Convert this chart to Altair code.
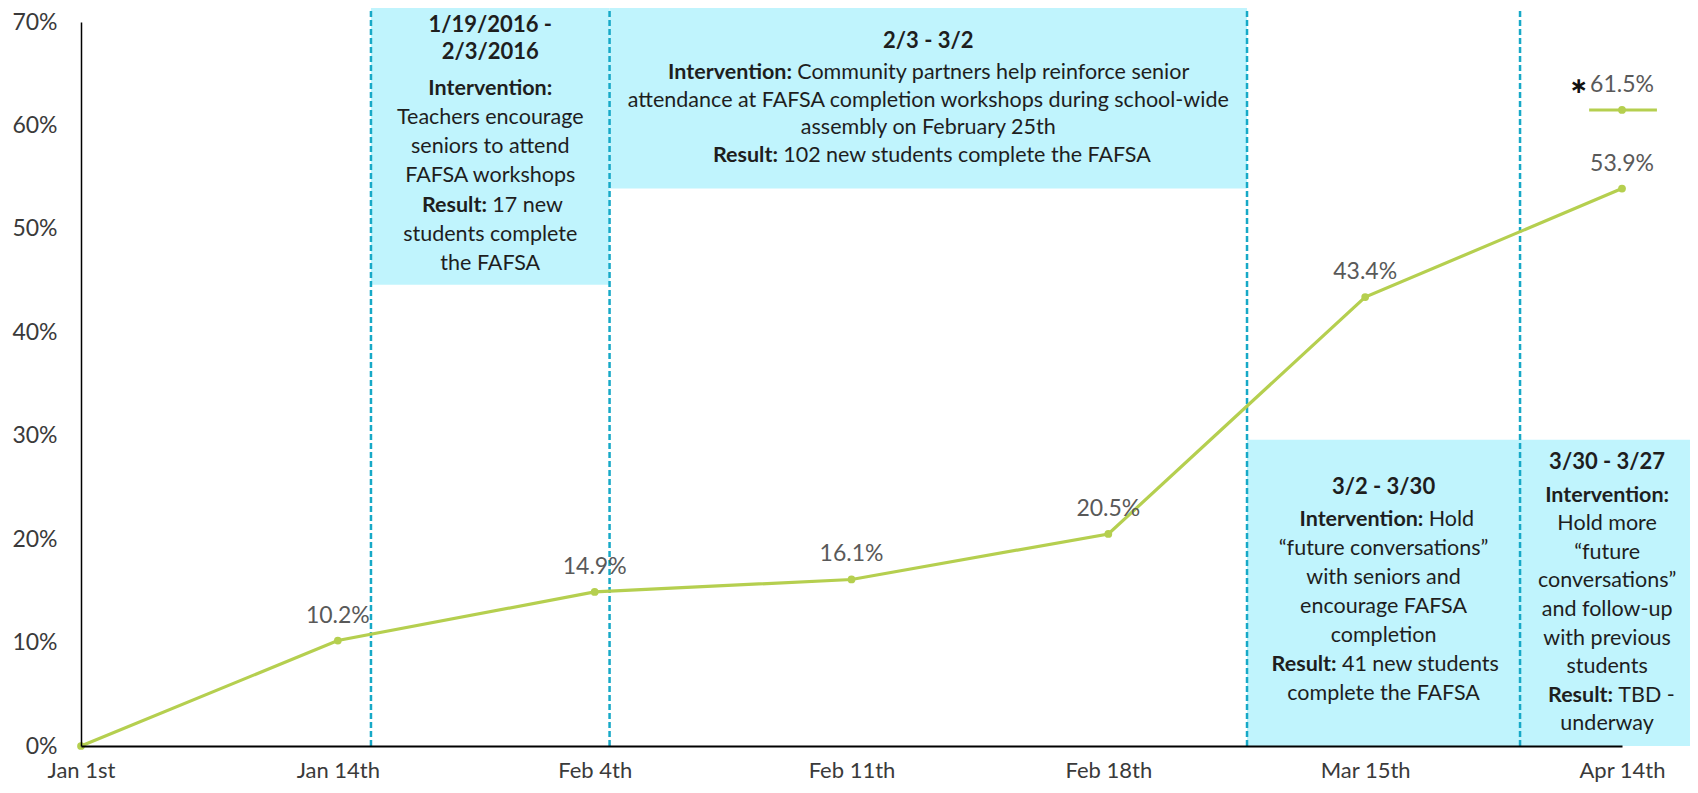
import json
import altair as alt
import pandas as pd

FONT = "Lato"

# ---------------- data ----------------
categories = ["Jan 1st", "Jan 14th", "Feb 4th", "Feb 11th", "Feb 18th", "Mar 15th", "Apr 14th"]
rate = [0.0, 10.2, 14.9, 16.1, 20.5, 43.4, 53.9]
rate_labels = ["", "10.2%", "14.9%", "16.1%", "20.5%", "43.4%", "53.9%"]

target_value = 61.5
target_label = "61.5%"
target_mark = "\u2217"
target_at = 6
target_start = 5.872
target_end = 6.136

box_start = [1.129, 2.058, 4.540, 5.603]
box_end = [2.058, 4.540, 5.603, 6.281]
box_bottom = [44.6, 53.9, 0.0, 0.0]
box_top = [72.3, 72.3, 29.6, 29.6]
box_titles = [["1/19/2016 -", "2/3/2016"], ["2/3 - 3/2"], ["3/2 - 3/30"], ["3/30 - 3/27"]]
box_body = [
    [("Intervention:", ""), ("", "Teachers encourage"), ("", "seniors to attend"),
     ("", "FAFSA workshops"), ("Result:", "17 new"), ("", "students complete"), ("", "the FAFSA")],
    [("Intervention:", "Community partners help reinforce senior"),
     ("", "attendance at FAFSA completion workshops during school-wide"),
     ("", "assembly on February 25th"),
     ("Result:", "102 new students complete the FAFSA")],
    [("Intervention:", "Hold"), ("", "\u201cfuture conversations\u201d"), ("", "with seniors and"),
     ("", "encourage FAFSA"), ("", "completion"), ("Result:", "41 new students"),
     ("", "complete the FAFSA")],
    [("Intervention:", ""), ("", "Hold more"), ("", "\u201cfuture"), ("", "conversations\u201d"),
     ("", "and follow-up"), ("", "with previous"), ("", "students"), ("Result:", "TBD -"),
     ("", "underway")],
]
dashed_at = [1.129, 2.058, 4.540, 5.603]

# ---------------- style ----------------
LINE = "#B5CF4F"
DASH = "#17A9C7"
FILL = "#C0F4FD"
TXT = "#1E1E1E"
LBL = "#595959"
AXL = "#3A3A3A"

PLOT_W = 1541
PLOT_H = 724
X_MAX = len(categories) - 1
Y_MAX = 70
PX_X = PLOT_W / X_MAX   # pixels per x unit
PX_Y = PLOT_H / Y_MAX   # pixels per y unit

BODY_SIZE = 21.5
TITLE_SIZE = 22
TITLE_LH = 27
TITLE_GAP = [37, 32, 33, 34]
BODY_LH = [29.3, 27.5, 29.0, 28.6]
BLOCK_SHIFT = [3, 5, -2, 0]   # px, nudges each text block down

# rough glyph advance widths (em) used only to centre mixed bold/regular lines
_W = {' ': 0.226, 'a': 0.479, 'b': 0.525, 'c': 0.423, 'd': 0.525, 'e': 0.498, 'f': 0.305,
      'g': 0.471, 'h': 0.525, 'i': 0.229, 'j': 0.239, 'k': 0.455, 'l': 0.229, 'm': 0.799,
      'n': 0.525, 'o': 0.527, 'p': 0.525, 'q': 0.525, 'r': 0.349, 's': 0.391, 't': 0.335,
      'u': 0.525, 'v': 0.452, 'w': 0.715, 'x': 0.433, 'y': 0.453, 'z': 0.395,
      'A': 0.579, 'B': 0.544, 'C': 0.533, 'D': 0.615, 'E': 0.488, 'F': 0.459, 'G': 0.631,
      'H': 0.623, 'I': 0.252, 'R': 0.543, 'S': 0.459, 'T': 0.487,
      '.': 0.252, ':': 0.268, '-': 0.306, '%': 0.715, '/': 0.386, '\u201c': 0.418, '\u201d': 0.418}


def text_width(s, size, bold=False):
    w = sum(_W.get(ch, 0.507) for ch in s)
    return w * size * (1.13 if bold else 1.08)


SPACE = 0.226 * BODY_SIZE * 1.08

rows = []
for k in range(len(box_start)):
    cx = (box_start[k] + box_end[k]) / 2
    cy = (box_bottom[k] + box_top[k]) / 2
    pos = []
    for i, t in enumerate(box_titles[k]):
        pos.append(("title", t, "", i * TITLE_LH))
    base = (len(box_titles[k]) - 1) * TITLE_LH + TITLE_GAP[k]
    for j, (b, r) in enumerate(box_body[k]):
        pos.append(("body", b, r, base + j * BODY_LH[k]))
    span = pos[-1][3]
    for kind, b, r, p in pos:
        ty = cy - (p - span / 2 + BLOCK_SHIFT[k]) / PX_Y
        if kind == "title":
            rows.append(dict(x=cx, y=ty, text=b, style="title"))
        elif b and r:
            wb = text_width(b, BODY_SIZE, True)
            wr = text_width(r, BODY_SIZE)
            W = wb + SPACE + wr
            pivot = -W / 2 + wb
            rows.append(dict(x=cx + pivot / PX_X, y=ty, text=b, style="bold_right"))
            rows.append(dict(x=cx + (pivot + SPACE) / PX_X, y=ty, text=r, style="reg_left"))
        elif b:
            rows.append(dict(x=cx, y=ty, text=b, style="bold_center"))
        else:
            rows.append(dict(x=cx, y=ty, text=r, style="reg_center"))

text_df = pd.DataFrame(rows)
line_df = pd.DataFrame({"idx": list(range(len(categories))), "cat": categories,
                        "rate": rate, "label": rate_labels})
box_df = pd.DataFrame({"x1": box_start, "x2": box_end, "y1": box_bottom, "y2": box_top})
dash_df = pd.DataFrame({"x": dashed_at})
target_df = pd.DataFrame({"x": [target_at], "xs": [target_start], "xe": [target_end],
                          "y": [target_value], "label": [target_label], "mark": [target_mark]})

x_scale = alt.Scale(domain=[0, X_MAX], nice=False, zero=False)
y_scale = alt.Scale(domain=[0, Y_MAX], nice=False)

label_expr = json.dumps(categories) + "[datum.value]"
x_axis = alt.Axis(values=list(range(len(categories))), labelExpr=label_expr, title=None,
                  ticks=False, grid=False, labelFont=FONT, labelFontSize=22, labelColor=AXL,
                  labelPadding=31, labelBaseline="alphabetic", domainColor="#000000",
                  domainWidth=2, zindex=1, labelFlush=False)
y_axis = alt.Axis(values=list(range(0, 71, 10)), labelExpr="datum.value + '%'", title=None,
                  ticks=False, grid=False, labelFont=FONT, labelFontSize=23, labelColor=AXL,
                  labelPadding=24, domainColor="#000000", domainWidth=1.5, zindex=1)

boxes = alt.Chart(box_df).mark_rect(color=FILL).encode(
    x=alt.X("x1:Q", scale=x_scale, axis=x_axis),
    x2="x2:Q",
    y=alt.Y("y1:Q", scale=y_scale, axis=y_axis),
    y2="y2:Q",
)

dashes = alt.Chart(dash_df).mark_rule(color=DASH, strokeWidth=2.5, strokeDash=[6, 3]).encode(
    x="x:Q", y=alt.datum(0), y2=alt.datum(72.8)
)

line = alt.Chart(line_df).mark_line(color=LINE, strokeWidth=3.2).encode(x="idx:Q", y="rate:Q")
pts = alt.Chart(line_df).mark_circle(color=LINE, size=60, opacity=1).encode(x="idx:Q", y="rate:Q")
lbls = alt.Chart(line_df).mark_text(font=FONT, fontSize=23, color=LBL, dy=-25,
                                    baseline="middle").encode(x="idx:Q", y="rate:Q", text="label:N")

t_rule = alt.Chart(target_df).mark_rule(color=LINE, strokeWidth=3).encode(
    x="xs:Q", x2="xe:Q", y="y:Q")
t_pt = alt.Chart(target_df).mark_circle(color=LINE, size=60, opacity=1).encode(x="x:Q", y="y:Q")
t_lbl = alt.Chart(target_df).mark_text(font=FONT, fontSize=23, color=LBL, dy=-25,
                                       baseline="middle").encode(x="x:Q", y="y:Q", text="label:N")
t_mark = alt.Chart(target_df).mark_text(font="DejaVu Sans", fontSize=22, fontWeight="bold",
                                        color="#111111", dy=-24, dx=-34, align="right",
                                        baseline="middle").encode(x="x:Q", y="y:Q", text="mark:N")


def text_layer(style, align, weight, size):
    return alt.Chart(text_df).transform_filter(alt.datum.style == style).mark_text(
        font=FONT, fontSize=size, fontWeight=weight, color=TXT, align=align, baseline="middle"
    ).encode(x="x:Q", y="y:Q", text="text:N")


texts = [
    text_layer("title", "center", "bold", TITLE_SIZE),
    text_layer("bold_center", "center", "bold", BODY_SIZE),
    text_layer("reg_center", "center", "normal", BODY_SIZE),
    text_layer("bold_right", "right", "bold", BODY_SIZE),
    text_layer("reg_left", "left", "normal", BODY_SIZE),
]

chart = alt.layer(boxes, dashes, line, pts, lbls, t_rule, t_pt, t_lbl, t_mark, *texts).properties(
    width=PLOT_W, height=PLOT_H,
    autosize=alt.AutoSizeParams(type="none"),
    padding={"left": 73, "top": 14, "right": 68, "bottom": 38},
).configure_view(stroke=None)

chart.save("out.html", embed_options={"renderer": "svg", "actions": False})
